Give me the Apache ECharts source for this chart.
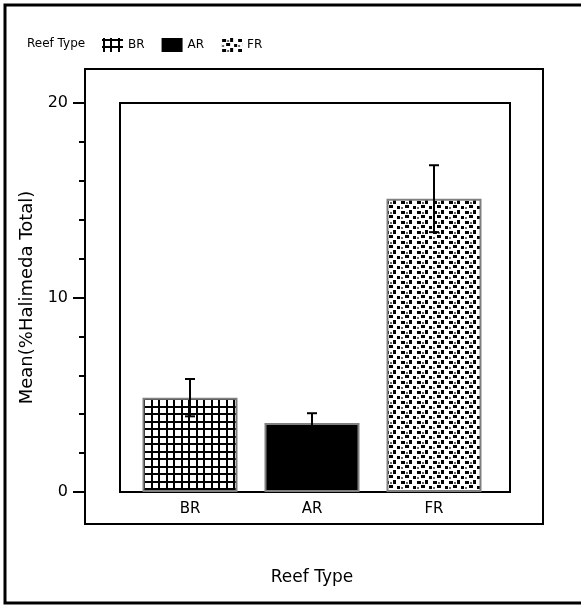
<!DOCTYPE html>
<html>
<head>
<meta charset="utf-8">
<script src="https://cdn.jsdelivr.net/npm/echarts@6/dist/echarts.min.js"></script>
<style>html,body{margin:0;padding:0;background:#fff}#c{width:581px;height:605px}</style>
</head>
<body>
<div id="c"></div>
<script>
const categories = ['BR', 'AR', 'FR'];
const means = [4.85, 3.55, 15.08];
const errors = [0.96, 0.5, 1.72];
const yTicks = [0, 10, 20];

function gridPattern() {
  const c = document.createElement('canvas');
  c.width = 15; c.height = 15;
  const g = c.getContext('2d');
  g.fillStyle = '#fff'; g.fillRect(0, 0, 15, 15);
  g.fillStyle = '#000';
  g.fillRect(1, 0, 2, 15); g.fillRect(8, 0, 2, 15);
  g.fillRect(0, 1, 15, 2); g.fillRect(0, 8, 15, 2);
  return c;
}
function dotPattern() {
  const c = document.createElement('canvas');
  c.width = 16; c.height = 10;
  const g = c.getContext('2d');
  g.fillStyle = '#fff'; g.fillRect(0, 0, 16, 10);
  g.fillStyle = '#000';
  g.fillRect(1, 1, 4, 3); g.fillRect(9, 0, 3, 4);
  g.fillRect(5, 5, 4, 3); g.fillRect(13, 6, 3, 3);
  g.fillStyle = '#666';
  g.fillRect(6, 2, 2, 2); g.fillRect(1, 7, 2, 2);
  return c;
}
const fills = [
  { image: gridPattern(), repeat: 'repeat' },
  '#000',
  { image: dotPattern(), repeat: 'repeat' }
];

const FONT = 'DejaVu Sans';
const chart = echarts.init(document.getElementById('c'), null, { renderer: 'canvas' });

const barSeries = categories.map((name, i) => ({
  name: name,
  type: 'bar',
  xAxisIndex: 0, yAxisIndex: 0,
  barWidth: 95,
  barGap: '-100%',
  data: categories.map((_, j) => (j === i ? means[i] : null)),
  itemStyle: { color: fills[i], borderColor: '#808080', borderWidth: 2 },
  emphasis: { disabled: true },
  z: 2
}));

const errData = means.map((m, i) => [i, m - errors[i], m + errors[i]]);

chart.setOption({
  animation: false,
  title: {
    text: 'Reef Type', left: 22, top: 33,
    textStyle: { fontFamily: FONT, fontSize: 12, fontWeight: 'normal', color: '#000' }
  },
  legend: {
    left: 97, top: 33, itemWidth: 21, itemHeight: 14, itemGap: 17,
    icon: 'rect',
    data: categories,
    textStyle: { fontFamily: FONT, fontSize: 12, color: '#000' },
    itemStyle: { borderWidth: 0 }
  },
  graphic: [{
    type: 'polyline', silent: true, z: 0,
    shape: { points: [[640, 5], [5, 5], [5, 603], [640, 603]] },
    style: { stroke: '#000', lineWidth: 3, fill: null }
  }],
  grid: [
    { left: 129, right: 86, top: 103, bottom: 113, show: false },
    { left: 120, right: 71, top: 103, bottom: 113, show: true, borderColor: '#000', borderWidth: 2, backgroundColor: 'transparent', z: 0 },
    { left: 85, right: 38, top: 69, bottom: 81, show: true, borderColor: '#000', borderWidth: 2, backgroundColor: 'transparent', z: 0 }
  ],
  xAxis: [{
    type: 'category', gridIndex: 0, data: categories,
    axisLine: { show: false }, axisTick: { show: false },
    axisLabel: { fontFamily: FONT, fontSize: 15, color: '#000', margin: 10 },
    name: 'Reef Type', nameLocation: 'middle', nameGap: 77,
    nameTextStyle: { fontFamily: FONT, fontSize: 17, color: '#000' }
  }],
  yAxis: [{
    type: 'value', gridIndex: 0, min: 0, max: 20, interval: 10, offset: 44,
    axisLine: { show: false },
    axisTick: { show: true, length: 12, inside: false, lineStyle: { color: '#000', width: 2 } },
    minorTick: { show: true, splitNumber: 5, length: 6, lineStyle: { color: '#000', width: 2 } },
    splitLine: { show: false },
    axisLabel: {
      fontFamily: FONT, fontSize: 16, color: '#000', margin: 17,
      formatter: v => (yTicks.indexOf(v) >= 0 ? String(v) : '')
    },
    name: 'Mean(%Halimeda Total)', nameLocation: 'middle', nameGap: 40,
    nameTextStyle: { fontFamily: FONT, fontSize: 18, color: '#000' }
  }],
  series: barSeries.concat([{
    type: 'custom',
    xAxisIndex: 0, yAxisIndex: 0,
    data: errData,
    z: 5,
    silent: true,
    renderItem: function (params, api) {
      const x = api.value(0);
      const lo = api.coord([x, api.value(1)]);
      const hi = api.coord([x, api.value(2)]);
      const w = 5;
      const st = { stroke: '#000', lineWidth: 2 };
      return {
        type: 'group',
        children: [
          { type: 'line', shape: { x1: hi[0], y1: hi[1], x2: lo[0], y2: lo[1] }, style: st },
          { type: 'line', shape: { x1: hi[0] - w, y1: hi[1], x2: hi[0] + w, y2: hi[1] }, style: st },
          { type: 'line', shape: { x1: lo[0] - w, y1: lo[1], x2: lo[0] + w, y2: lo[1] }, style: st }
        ]
      };
    }
  }])
});
</script>
</body>
</html>
